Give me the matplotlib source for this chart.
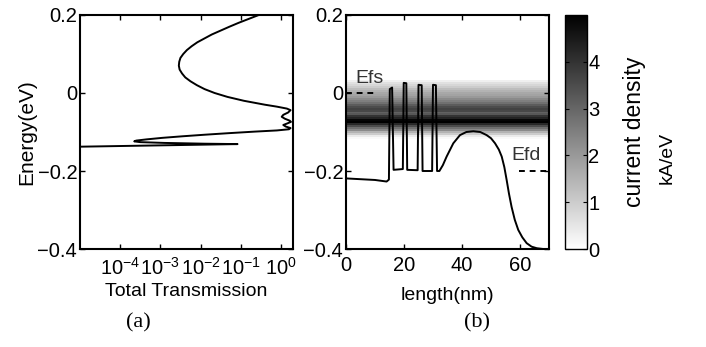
import numpy as np
import matplotlib
matplotlib.use("Agg")
import matplotlib.pyplot as plt

plt.rcParams['font.family'] = ['Liberation Sans', 'DejaVu Sans']
plt.rcParams['mathtext.fontset'] = 'custom'
plt.rcParams['mathtext.rm'] = 'Liberation Sans'
plt.rcParams['mathtext.default'] = 'regular'
plt.rcParams['axes.unicode_minus'] = True

# ---- panel (a): total transmission vs energy ----
energy_a = [0.205, 0.20, 0.19, 0.18, 0.17, 0.16, 0.15, 0.14, 0.13, 0.12, 0.11,
            0.10, 0.09, 0.08, 0.07, 0.06, 0.05, 0.04, 0.03, 0.02, 0.01, 0.00,
            -0.01, -0.02, -0.03, -0.035, -0.040, -0.044, -0.050, -0.056, -0.061,
            -0.066, -0.071, -0.074, -0.078, -0.082, -0.086, -0.090, -0.093,
            -0.096, -0.099, -0.103, -0.107, -0.111, -0.115, -0.119, -0.122,
            -0.124, -0.126, -0.128, -0.130, -0.131, -0.138, -0.140]
log_trans = [-0.45, -0.55, -0.80, -1.05, -1.28, -1.50, -1.72, -1.90, -2.08, -2.22, -2.34,
             -2.43, -2.50, -2.53, -2.54, -2.52, -2.46, -2.38, -2.25, -2.09, -1.90, -1.65,
             -1.33, -0.92, -0.40, -0.10, 0.15, 0.24, 0.18, 0.06, 0.02,
             0.10, 0.22, 0.25, 0.16, 0.06, 0.12, 0.24, 0.20,
             -0.10, -0.65, -1.30, -1.90, -2.45, -2.95, -3.35, -3.60,
             -3.65, -3.50, -2.90, -1.90, -1.08, -5.2, -5.5]
trans = 10.0 ** np.array(log_trans)

# ---- panel (b): conduction band profile ----
length_nm = [0, 5, 10, 14, 14.8, 15.1, 15.9, 16.4, 19.6, 19.9, 20.8, 21.1, 24.7, 25.0,
             26.1, 26.4, 29.7, 30.0, 31.0, 31.4, 32.2, 33.4, 34.7, 37.0, 39.3, 41.5,
             43.9, 46.3, 48.5, 50.0, 51.4, 52.7, 53.7, 54.6, 55.4, 56.2, 57.1, 58.2,
             59.4, 60.8, 62.3, 64.0, 65.8, 68.0, 70.0]
band_ev = [-0.219, -0.221, -0.223, -0.227, -0.222, 0.010, 0.014, -0.197, -0.195, 0.026,
           0.025, -0.197, -0.198, 0.021, 0.020, -0.200, -0.200, 0.021, 0.020, -0.200,
           -0.200, -0.185, -0.163, -0.129, -0.108, -0.100, -0.098, -0.100, -0.108,
           -0.116, -0.129, -0.145, -0.163, -0.190, -0.223, -0.258, -0.292, -0.325,
           -0.351, -0.370, -0.385, -0.394, -0.398, -0.400, -0.400]

# current density spectrum (kA/eV), energy bin edges
cd_edges = [0.0325, 0.0275, 0.0225, 0.0175, 0.0125, 0.0075, 0.0025, -0.0025, -0.0075,
            -0.0125, -0.0175, -0.0225, -0.0275, -0.0325, -0.0375, -0.0425, -0.0475,
            -0.0525, -0.0575, -0.0625, -0.0675, -0.0725, -0.0775, -0.0825, -0.0875,
            -0.0925, -0.0975, -0.1025, -0.1075, -0.1125, -0.1175, -0.1225]
cd_values = [0.3, 0.6, 0.8, 1.0, 1.3, 1.5, 1.7, 1.8, 2.0, 2.3, 2.5, 2.8, 3.2, 3.5, 3.7,
             3.6, 3.1, 3.3, 4.0, 4.3, 4.9, 5.0, 4.2, 3.5, 2.8, 2.3, 1.5, 1.0, 0.4, 0.1, 0.0]

efs = 0.0
efd = -0.2
yticks = [-0.4, -0.2, 0, 0.2]
ytick_labels = ['\u22120.4', '\u22120.2', '0', '0.2']
xticks_b = [0, 20, 40, 60]
cbar_ticks = [0, 1, 2, 3, 4]

fs_tick = 14.5
fs_lab = 14
fig = plt.figure(figsize=(7.06, 3.47), dpi=100)
ax_a = fig.add_axes([0.1133, 0.2824, 0.3017, 0.6744])
ax_b = fig.add_axes([0.4901, 0.2824, 0.2875, 0.6744])
cax = fig.add_axes([0.8003, 0.2824, 0.0312, 0.6744])

# panel (a)
ax_a.plot(trans, energy_a, color='black', lw=1.4)
ax_a.set_xscale('log')
ax_a.set_xlim(1e-5, 2)
ax_a.set_ylim(-0.4, 0.2)
ax_a.set_xticks([1e-4, 1e-3, 1e-2, 1e-1, 1])
ax_a.set_xticklabels([r'$10^{-4}$', r'$10^{-3}$', r'$10^{-2}$', r'$10^{-1}$', r'$10^{0}$'])
ax_a.set_yticks(yticks)
ax_a.set_yticklabels(ytick_labels)
ax_a.set_xlabel('Total Transmission', fontsize=fs_lab, labelpad=3)
ax_a.set_ylabel('Energy(eV)', fontsize=15, labelpad=1)

# panel (b)
ax_b.pcolormesh([0, 70], cd_edges, np.array(cd_values)[:, None], cmap='gray_r',
                vmin=0, vmax=5, shading='flat')
ax_b.plot(length_nm, band_ev, color='black', lw=1.4)
ax_b.plot([0, 9.5], [efs, efs], color='black', lw=1.4, linestyle=(0, (3, 2.5)))
ax_b.plot([59.6, 70], [efd, efd], color='black', lw=1.4, linestyle=(0, (3, 2.5)))
ax_b.text(8, 0.038, 'Efs', fontsize=14, color='#333333', ha='center', va='center')
ax_b.text(62, -0.159, 'Efd', fontsize=14, color='#333333', ha='center', va='center')
ax_b.set_xlim(0, 70)
ax_b.set_ylim(-0.4, 0.2)
ax_b.set_xticks(xticks_b)
ax_b.set_yticks(yticks)
ax_b.set_yticklabels(ytick_labels)
ax_b.set_xlabel('length(nm)', fontsize=fs_lab, labelpad=9)

for ax in (ax_a, ax_b):
    ax.tick_params(which='major', direction='in', top=True, right=True,
                   length=3.5, width=1, labelsize=fs_tick, pad=2, colors='black')
    for sp in ax.spines.values():
        sp.set_linewidth(1.5)
ax_a.tick_params(axis='x', which='major', pad=6)
ax_b.tick_params(axis='x', which='major', pad=5)
ax_a.tick_params(which='minor', direction='in', top=True, bottom=False,
                 right=False, left=False, length=2, width=0.8)

# colorbar
sm = plt.cm.ScalarMappable(cmap='gray_r', norm=plt.Normalize(0, 5))
cb = fig.colorbar(sm, cax=cax, ticks=cbar_ticks)
cb.outline.set_linewidth(1)
cax.tick_params(direction='in', left=True, right=True, length=3, width=0.8,
                labelsize=fs_tick, pad=1)

fig.text(635 / 706, 1 - 132 / 347, 'current density', rotation=90,
         fontsize=16.5, ha='center', va='center')
fig.text(667 / 706, 1 - 158 / 347, 'kA/eV', rotation=90,
         fontsize=14, ha='center', va='center')

fig.text(138 / 706, 1 - 323 / 347, '(a)', family='Liberation Serif',
         fontsize=16, ha='center', va='center')
fig.text(477 / 706, 1 - 323 / 347, '(b)', family='Liberation Serif',
         fontsize=16, ha='center', va='center')

fig.savefig('out.png', dpi=100)
